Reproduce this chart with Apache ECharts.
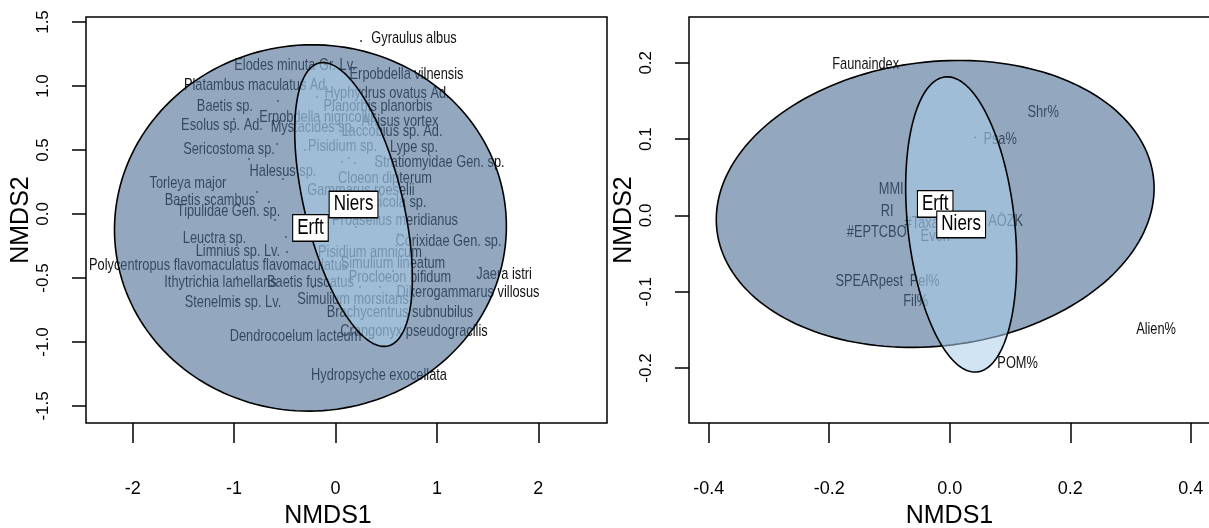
<!DOCTYPE html>
<html>
<head>
<meta charset="utf-8">
<script src="https://cdn.jsdelivr.net/npm/echarts@6/dist/echarts.min.js"></script>
<style>
  html, body { margin: 0; padding: 0; background: #ffffff; }
  #chart { width: 1209px; height: 528px; }
</style>
</head>
<body>
<div id="chart"></div>
<script>
// ---------- Left ordination: macroinvertebrate taxa (NMDS1 / NMDS2) ----------
const taxaNames = [
  'Gyraulus albus', 'Elodes minuta Gr. Lv.', 'Erpobdella vilnensis', 'Platambus maculatus Ad.',
  'Hyphydrus ovatus Ad.', 'Baetis sp.', 'Planorbis planorbis', 'Erpobdella nigricollis',
  'Anisus vortex', 'Esolus sp. Ad.', 'Mystacides sp.', 'Laccobius sp. Ad.',
  'Pisidium sp.', 'Lype sp.', 'Sericostoma sp.', 'Stratiomyidae Gen. sp.',
  'Halesus sp.', 'Cloeon dipterum', 'Torleya major', 'Gammarus roeselii',
  'Baetis scambus', 'Piscicola sp.', 'Tipulidae Gen. sp.', 'Proasellus meridianus',
  'Leuctra sp.', 'Corixidae Gen. sp.', 'Limnius sp. Lv.', 'Pisidium amnicum',
  'Simulium lineatum', 'Polycentropus flavomaculatus flavomaculatus', 'Jaera istri', 'Procloeon bifidum',
  'Ithytrichia lamellaris', 'Baetis fuscatus', 'Dikerogammarus villosus', 'Simulium morsitans',
  'Stenelmis sp. Lv.', 'Brachycentrus subnubilus', 'Crangonyx pseudogracilis', 'Dendrocoelum lacteum',
  'Hydropsyche exocellata'
];
const taxaLabelX = [
  0.774, -0.399, 0.700, -0.779,
  0.508, -1.090, 0.419, -0.173,
  0.636, -1.119, -0.222, 0.557,
  0.069, 0.774, -1.050, 1.026,
  -0.518, 0.488, -1.455, 0.251,
  -1.238, 0.547, -1.055, 0.587,
  -1.193, 1.114, -0.962, 0.340,
  0.567, -1.154, 1.662, 0.636,
  -1.134, -0.247, 1.307, 0.173,
  -1.011, 0.636, 0.774, -0.394,
  0.429
];
const taxaLabelY = [
  1.367, 1.156, 1.086, 1.000,
  0.938, 0.836, 0.836, 0.750,
  0.719, 0.688, 0.672, 0.641,
  0.523, 0.516, 0.500, 0.398,
  0.328, 0.273, 0.234, 0.180,
  0.102, 0.086, 0.016, -0.055,
  -0.195, -0.219, -0.297, -0.305,
  -0.391, -0.406, -0.477, -0.500,
  -0.539, -0.539, -0.617, -0.672,
  -0.695, -0.773, -0.922, -0.961,
  -1.266
];
// taxon score points
const taxaPointX = [0.252, -0.567, -0.182, -1.001, -0.577, -0.301, -0.853, -0.518, -0.774, -0.656,
  -0.597, -0.488, -0.478, -0.971, -0.222, -0.971, 0.064, 0.133, 0.192, 0.399, 0.616, 0.202, 0.242, 0.439, 0.567];
const taxaPointY = [1.352, 0.883, 0.914, 0.742, 0.547, 0.500, 0.430, 0.273, 0.172, 0.094,
  -0.047, -0.180, -0.297, -0.492, -0.570, -0.672, 0.406, 0.438, 0.398, 0.398, -0.156, -0.102, -0.570, -0.570, -0.445];

// ---------- Right ordination: community metrics ----------
const metricNames = ['Faunaindex', 'Shr%', 'Psa%', 'MMI', 'RI', '#EPTCBO', '#Taxa', 'Even',
  'AÖZK', 'SPEARpest', 'Pel%', 'Fil%', 'Alien%', 'POM%'];
const metricLabelX = [-0.1395, 0.1549, 0.0836, -0.0972, -0.1038, -0.1212, -0.0466, -0.0242,
  0.0927, -0.1337, -0.0416, -0.0566, 0.3423, 0.1126];
const metricLabelY = [0.1972, 0.1343, 0.0990, 0.0334, 0.0046, -0.0229, -0.0111, -0.0282,
  -0.0085, -0.0872, -0.0872, -0.1134, -0.1501, -0.1946];
const metricPointX = [0.042];
const metricPointY = [0.102];

// ---------- Group ellipses: centre and two conjugate semi-axis vectors ----------
const groupNames = ['Erft', 'Niers'];
const leftCentreX = [-0.247, 0.178];
const leftCentreY = [-0.109, 0.074];
const leftAxisAX = [1.928, -0.340];
const leftAxisAY = [0.107, 1.105];
const leftAxisBX = [0.126, 0.470];
const leftAxisBY = [-1.427, 0.091];

const rightCentreX = [-0.0242, 0.0189];
const rightCentreY = [0.0151, -0.0118];
const rightAxisAX = [0.3621, -0.0265];
const rightAxisAY = [0.0351, 0.1933];
const rightAxisBX = [0.0287, 0.0882];
const rightAxisBY = [-0.1847, 0.0076];

// ---------- Axis ticks ----------
const leftXTicks = [-2, -1, 0, 1, 2];
const leftYTicks = [-1.5, -1.0, -0.5, 0.0, 0.5, 1.0, 1.5];
const rightXTicks = [-0.4, -0.2, 0.0, 0.2, 0.4];
const rightYTicks = [-0.2, -0.1, 0.0, 0.1, 0.2];

const SANS = '"Liberation Sans", Arial, sans-serif';
const TALL = 1.26;   // in-plot text is set tall and narrow
const ellipseFill = ['rgba(75,110,147,0.6)', 'rgba(170,205,235,0.55)'];

function ellipseRows(cx, cy, ax, ay, bx, by) {
  return cx.map((_, i) => [cx[i], cy[i], ax[i], ay[i], bx[i], by[i]]);
}

function renderEllipse(params, api) {
  const c = [api.value(0), api.value(1)];
  const a = [api.value(2), api.value(3)];
  const b = [api.value(4), api.value(5)];
  const pts = [];
  const n = 180;
  for (let k = 0; k < n; k++) {
    const t = (2 * Math.PI * k) / n;
    pts.push(api.coord([
      c[0] + a[0] * Math.cos(t) + b[0] * Math.sin(t),
      c[1] + a[1] * Math.cos(t) + b[1] * Math.sin(t)
    ]));
  }
  return {
    type: 'polygon',
    shape: { points: pts },
    style: { fill: ellipseFill[params.dataIndex], stroke: '#000', lineWidth: 1.6 }
  };
}

function textRenderer(names) {
  return function (params, api) {
    const p = api.coord([api.value(0), api.value(1)]);
    return {
      type: 'text',
      x: p[0], y: p[1], scaleY: TALL,
      style: {
        text: names[params.dataIndex],
        fill: '#111',
        font: '12.8px ' + SANS,
        align: 'center',
        verticalAlign: 'middle'
      }
    };
  };
}

function boxRenderer(names) {
  return function (params, api) {
    const p = api.coord([api.value(0), api.value(1)]);
    return {
      type: 'text',
      x: p[0], y: p[1], scaleY: TALL,
      style: {
        text: names[params.dataIndex],
        fill: '#000',
        font: '17px ' + SANS,
        align: 'center',
        verticalAlign: 'middle',
        backgroundColor: '#ffffff',
        borderColor: '#000',
        borderWidth: 1.1,
        padding: [2, 4, 1, 4]
      }
    };
  };
}

function xAxisFor(grid, min, max, ticks, digits, namePad) {
  return {
    gridIndex: grid, type: 'value', min: min, max: max,
    axisLine: { show: false, onZero: false }, splitLine: { show: false },
    axisTick: { show: true, customValues: ticks, length: 20, lineStyle: { color: '#000', width: 1.5 } },
    axisLabel: {
      customValues: ticks, margin: 57, color: '#000', fontSize: 18, fontFamily: SANS,
      formatter: v => Number(v).toFixed(digits)
    },
    name: 'NMDS1', nameLocation: 'middle', nameGap: 81,
    nameTextStyle: { fontSize: 25, fontFamily: SANS, color: '#000', padding: namePad }
  };
}

function yAxisFor(grid, min, max, ticks) {
  return {
    gridIndex: grid, type: 'value', min: min, max: max,
    axisLine: { show: false, onZero: false }, splitLine: { show: false },
    axisTick: { show: true, customValues: ticks, length: 14, lineStyle: { color: '#000', width: 1.5 } },
    axisLabel: {
      customValues: ticks, rotate: 90, margin: 34, color: '#000', fontSize: 17, fontFamily: SANS,
      formatter: v => Number(v).toFixed(1)
    },
    name: 'NMDS2', nameLocation: 'middle', nameRotate: 90, nameGap: 48,
    nameTextStyle: { fontSize: 25, fontFamily: SANS, color: '#000' }
  };
}

const chart = echarts.init(document.getElementById('chart'), null, { renderer: 'canvas' });

const gridBase = {
  top: 17, width: 521, height: 406, show: true, containLabel: false, outerBoundsMode: 'none',
  borderColor: '#000', borderWidth: 1.5, backgroundColor: 'transparent'
};

chart.setOption({
  animation: false,
  backgroundColor: '#ffffff',
  grid: [
    Object.assign({ left: 86 }, gridBase),
    Object.assign({ left: 689 }, gridBase)
  ],
  xAxis: [
    xAxisFor(0, -2.46, 2.677, leftXTicks, 0, [0, 37, 0, 0]),
    xAxisFor(1, -0.4327, 0.4318, rightXTicks, 1, 0)
  ],
  yAxis: [
    yAxisFor(0, -1.633, 1.539, leftYTicks),
    yAxisFor(1, -0.272, 0.260, rightYTicks)
  ],
  series: [
    // score points
    {
      type: 'scatter', xAxisIndex: 0, yAxisIndex: 0, z: 1, silent: true,
      symbol: 'circle', symbolSize: 2, itemStyle: { color: '#000' },
      data: taxaPointX.map((x, i) => [x, taxaPointY[i]])
    },
    {
      type: 'scatter', xAxisIndex: 1, yAxisIndex: 1, z: 1, silent: true,
      symbol: 'circle', symbolSize: 2, itemStyle: { color: '#000' },
      data: metricPointX.map((x, i) => [x, metricPointY[i]])
    },
    // labels
    {
      type: 'custom', xAxisIndex: 0, yAxisIndex: 0, z: 2, silent: true,
      renderItem: textRenderer(taxaNames),
      data: taxaLabelX.map((x, i) => [x, taxaLabelY[i]])
    },
    {
      type: 'custom', xAxisIndex: 1, yAxisIndex: 1, z: 2, silent: true,
      renderItem: textRenderer(metricNames),
      data: metricLabelX.map((x, i) => [x, metricLabelY[i]])
    },
    // group ellipses drawn over the labels
    {
      type: 'custom', xAxisIndex: 0, yAxisIndex: 0, z: 3, silent: true,
      renderItem: renderEllipse,
      data: ellipseRows(leftCentreX, leftCentreY, leftAxisAX, leftAxisAY, leftAxisBX, leftAxisBY)
    },
    {
      type: 'custom', xAxisIndex: 1, yAxisIndex: 1, z: 3, silent: true,
      renderItem: renderEllipse,
      data: ellipseRows(rightCentreX, rightCentreY, rightAxisAX, rightAxisAY, rightAxisBX, rightAxisBY)
    },
    // group names at ellipse centres
    {
      type: 'custom', xAxisIndex: 0, yAxisIndex: 0, z: 5, silent: true,
      renderItem: boxRenderer(groupNames),
      data: leftCentreX.map((x, i) => [x, leftCentreY[i]])
    },
    {
      type: 'custom', xAxisIndex: 1, yAxisIndex: 1, z: 5, silent: true,
      renderItem: boxRenderer(groupNames),
      data: rightCentreX.map((x, i) => [x, rightCentreY[i]])
    }
  ]
});
</script>
</body>
</html>
